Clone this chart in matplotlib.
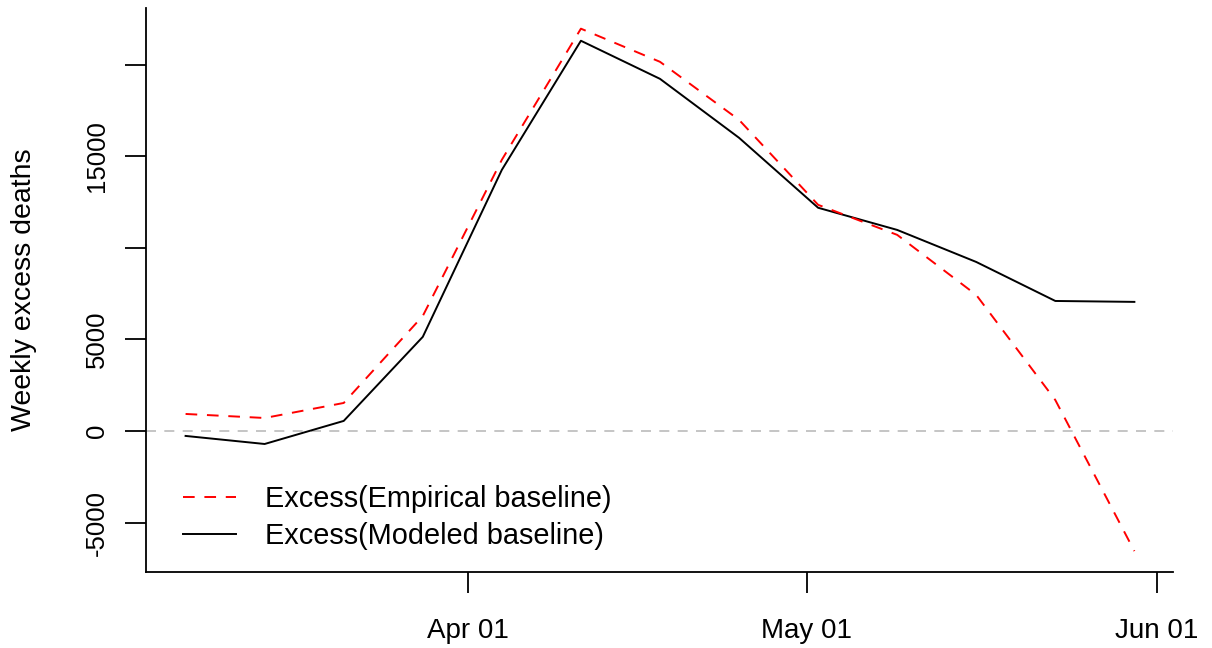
import numpy as np
import pandas as pd
import matplotlib
matplotlib.use('Agg')
import matplotlib.pyplot as plt
import matplotlib.dates as mdates

plt.rcParams['font.family'] = ['Liberation Sans', 'DejaVu Sans']

# weekly excess deaths, week ending dates
weeks = pd.date_range('2020-03-07', periods=13, freq='7D')
excess_empirical = [930, 710, 1530, 6280, 14810, 21970, 20160, 16990, 12350, 10710, 7430, 1690, -6560]
excess_modeled = [-270, -710, 550, 5140, 14260, 21310, 19230, 16010, 12190, 10980, 9230, 7100, 7050]

y_ticks = [-5000, 0, 5000, 10000, 15000, 20000]
y_ticklabels = ['-5000', '0', '5000', '', '15000', '']
x_ticks = pd.to_datetime(['2020-04-01', '2020-05-01', '2020-06-01'])

fig = plt.figure(figsize=(12.12, 6.48), dpi=100)
ax = fig.add_axes([0.1205, 0.1173, 0.8473, 0.8704])

ax.axhline(0, color='#bbbbbb', lw=1.2, ls=(0, (6, 5)), zorder=1)
ax.plot(weeks, excess_empirical, color='red', lw=1.4, ls=(0, (6, 5)),
        label='Excess(Empirical baseline)', zorder=3)
ax.plot(weeks, excess_modeled, color='black', lw=1.4,
        label='Excess(Modeled baseline)', zorder=2)

ax.set_xlim(pd.Timestamp('2020-03-03 12:00'), pd.Timestamp('2020-06-02 10:00'))
ax.set_ylim(-7700, 23100)

ax.set_xticks(x_ticks)
ax.xaxis.set_major_formatter(mdates.DateFormatter('%b %d'))
ax.set_yticks(y_ticks)
ax.set_yticklabels(y_ticklabels, rotation=90, va='center')

for s in ['top', 'right']:
    ax.spines[s].set_visible(False)
for s in ['left', 'bottom']:
    ax.spines[s].set_linewidth(1.3)
ax.tick_params(axis='both', length=15, width=1.3)
ax.tick_params(axis='x', labelsize=20, pad=18)
ax.tick_params(axis='y', labelsize=18.5, pad=12)

ax.set_ylabel('Weekly excess deaths', fontsize=20.5, labelpad=34)

ax.legend(loc='upper left', bbox_to_anchor=(183 / 1212, 1 - 485 / 648),
          bbox_transform=fig.transFigure, frameon=False, borderpad=0,
          borderaxespad=0, fontsize=20.8, handlelength=1.85,
          handletextpad=1.0, labelspacing=0.32)

fig.savefig('out.png', dpi=100)
